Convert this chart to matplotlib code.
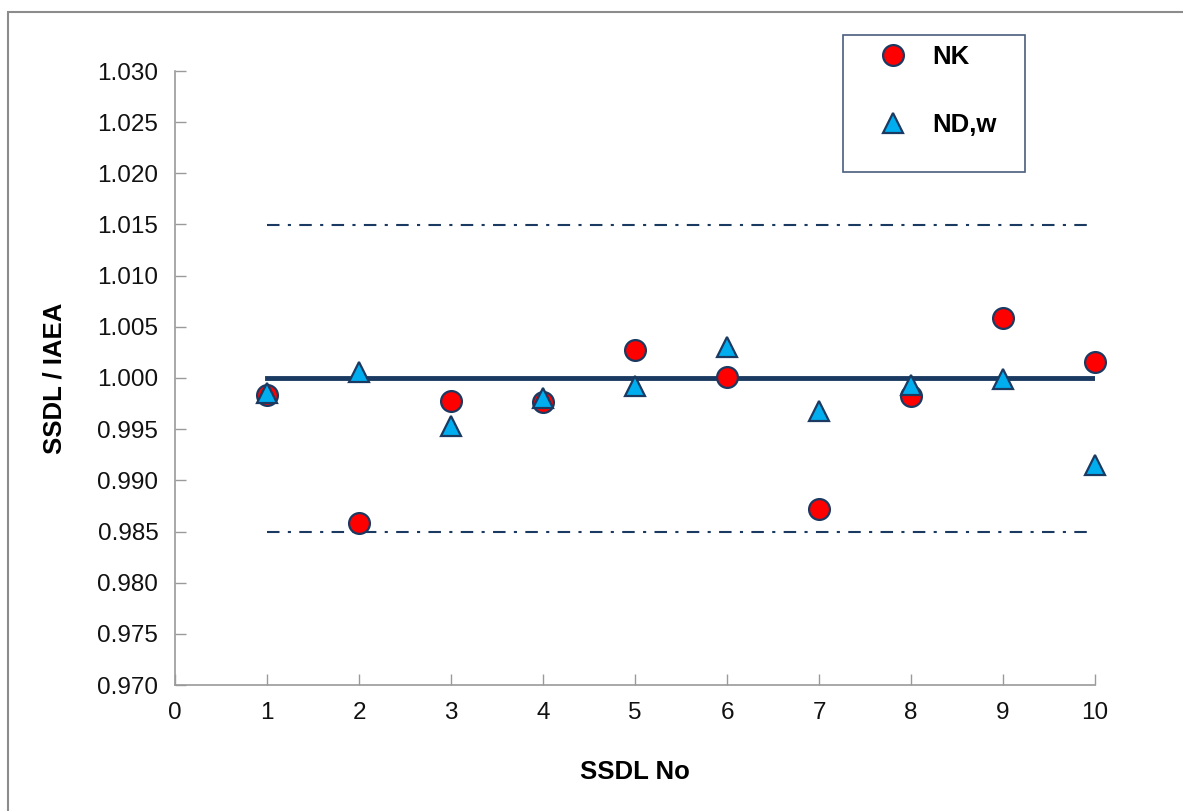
import numpy as np
import matplotlib.pyplot as plt
from matplotlib.patches import Rectangle
from matplotlib.lines import Line2D

plt.rcParams['font.family'] = ['Liberation Sans', 'DejaVu Sans']

# datos
ssdl = [1, 2, 3, 4, 5, 6, 7, 8, 9, 10]
nk = [0.9983, 0.9858, 0.9978, 0.9977, 1.0027, 1.0001, 0.9872, 0.9982, 1.0059, 1.0016]
ndw = [0.9985, 1.0006, 0.9953, 0.9980, 0.9992, 1.0030, 0.9968, 0.9993, 0.9999, 0.9915]
ref = 1.000
upper = 1.015
lower = 0.985
xticks = np.arange(0, 11, 1)
yticks = np.arange(0.970, 1.0301, 0.005)

navy = '#1b3a62'
W, H = 1183, 811
fig = plt.figure(figsize=(W/100, H/100), dpi=100)

# marco exterior
fig.patches.append(Rectangle((8/W, -0.1), 1.2, (H-12)/H + 0.1,
                             transform=fig.transFigure, fill=False,
                             edgecolor='#8c8c8c', linewidth=1.5))

ax = fig.add_axes([175/W, 126/H, 920/W, 614/H])

ax.plot([ssdl[0], ssdl[-1]], [ref, ref], color=navy, lw=3.5, zorder=2)
ax.plot([ssdl[0], ssdl[-1]], [upper, upper], color=navy, lw=1.5,
        dashes=(6, 4, 1.5, 4), zorder=2)
ax.plot([ssdl[0], ssdl[-1]], [lower, lower], color=navy, lw=1.5,
        dashes=(6, 4, 1.5, 4), zorder=2)

ax.plot(ssdl, nk, 'o', ms=15, mfc='#ff0000', mec=navy, mew=1.6, zorder=3, clip_on=False)
ax.plot(ssdl, ndw, '^', ms=15, mfc='#00aeef', mec=navy, mew=1.6, zorder=4, clip_on=False)

ax.set_xlim(0, 10)
ax.set_ylim(0.970, 1.030)
ax.set_xticks(xticks)
ax.set_yticks(yticks)
ax.set_yticklabels(['%.3f' % v for v in yticks])
ax.tick_params(direction='in', length=8, width=1, color='#9a9a9a',
               labelsize=17.5, labelcolor='#111111')
ax.tick_params(axis='x', pad=12)
ax.tick_params(axis='y', pad=12)
for s in ['top', 'right']:
    ax.spines[s].set_visible(False)
for s in ['left', 'bottom']:
    ax.spines[s].set_color('#9a9a9a')
    ax.spines[s].set_linewidth(1.2)

ax.set_xlabel('SSDL No', fontsize=18.5, fontweight='bold', labelpad=26)
ax.set_ylabel('SSDL / IAEA', fontsize=18.5, fontweight='bold', labelpad=22)

# caja de la leyenda
fig.patches.append(Rectangle((843/W, 1 - 172/H), 182/W, 137/H,
                             transform=fig.transFigure, fill=True,
                             facecolor='white', edgecolor='#4a5e7e',
                             linewidth=1.2, zorder=5))

handles = [Line2D([], [], ls='', marker='o', ms=15, mfc='#ff0000', mec=navy, mew=1.6),
           Line2D([], [], ls='', marker='^', ms=15, mfc='#00aeef', mec=navy, mew=1.6)]
leg = fig.legend(handles, ['NK', 'ND,w'], loc='upper left',
                 bbox_to_anchor=(872/W, 1 - 45/H), frameon=False,
                 prop={'size': 18.5, 'weight': 'bold'}, labelspacing=1.72,
                 handletextpad=0.76, borderpad=0, borderaxespad=0,
                 handlelength=1.6)
leg.set_zorder(6)

fig.savefig('out.png', dpi=100)
